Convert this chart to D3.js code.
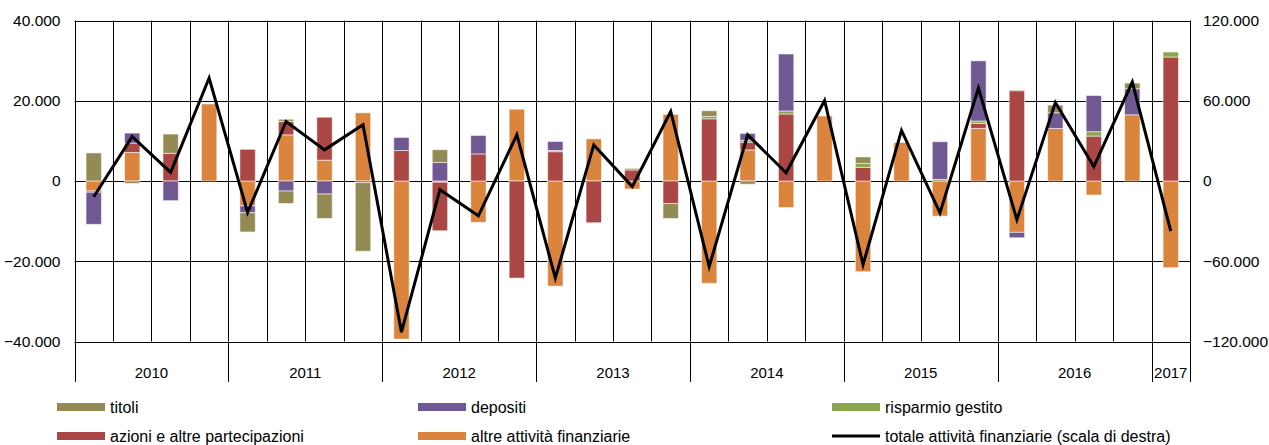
<!DOCTYPE html>
<html>
<head>
<meta charset="utf-8">
<script src="https://cdn.jsdelivr.net/npm/d3@7"></script>
<style>
  html, body { margin: 0; padding: 0; background: #fff; }
  svg { display: block; font-family: "Liberation Sans", Arial, sans-serif; }
</style>
</head>
<body>
<svg id="chart" width="1269" height="445"></svg>
<script>
// ---- data (values in units; 29 quarters 2010Q1..2017Q1) ----
const years = ["2010","2011","2012","2013","2014","2015","2016","2017"];
const quartersPerYear = [4,4,4,4,4,4,4,1];
const titoli = [7000,-600,4800,0, -4800,-3100,-6100,-17100, 0,3200,0,0, 0,0,0,-3750, 1400,-800,0,0, 1600,0,0,0, 200,1900,0,1400, 0];
const depositi = [-8000,2500,-4900,0, -1700,-2500,-3250,0, 3250,4600,4600,0, 2250,0,0,0, 0,1700,14200,0, 0,0,9400,15000, -1350,3900,9000,6500, 0];
const risparmio = [0,0,0,0, 0,600,0,0, 0,0,0,0, 300,0,400,0, 600,500,750,0, 1000,0,400,600, 0,0,1100,0, 1250];
const azioni = [-300,2350,6900,0, 7900,3300,10700,-400, 7600,-12100,6750,-24200, 7300,-10400,2750,-5600, 15500,1900,16700,0, 3400,0,0,1250, 22500,0,11200,0, 30900];
const altre = [-2500,7100,0,19200, -6200,11500,5200,17000, -39400,-300,-10300,17900, -26200,10500,-2000,16600, -25500,7750,-6600,16200, -22600,9600,-8750,13100, -12800,13100,-3500,16500, -21600];
const totale = [-11800,33200,6500,77000, -23500,44500,23300,42000, -113000,-6500,-26000,34500, -72500,27000,-4200,52000, -64000,34500,6200,60200, -62500,37800,-23800,69500, -29000,58700,10800,74000, -37500];
const leftTicks = [-40000,-20000,0,20000,40000];
const rightTicks = [-120000,-60000,0,60000,120000];
const seriesNames = ["titoli","depositi","risparmio gestito","azioni e altre partecipazioni","altre attività finanziarie","totale attività finanziarie (scala di destra)"];
const colors = {"titoli":"#948A54","depositi":"#725893","risparmio gestito":"#89A54E","azioni e altre partecipazioni":"#AA4643","altre attività finanziarie":"#DB843D"};

// ---- layout ----
const svg = d3.select("#chart");
const L = 74.5, R = 1190, T = 20.5, B = 341.5, AXB = 382;
const n = totale.length;
const idx = d3.range(n);
const x = d3.scaleBand().domain(idx).range([L, R]).paddingInner(0).paddingOuter(0);
const y = d3.scaleLinear().domain([-40000, 40000]).range([B, T]);
const y2 = d3.scaleLinear().domain([-120000, 120000]).range([B, T]);
const fmt = v => v === 0 ? "0" : d3.format(",")(v).replace(/,/g, ".");

// gridlines horizontal
svg.append("g").selectAll("line").data(leftTicks).join("line")
  .attr("x1", L).attr("x2", R)
  .attr("y1", d => Math.round(y(d)) + 0.5).attr("y2", d => Math.round(y(d)) + 0.5)
  .attr("stroke", "#000").attr("stroke-width", 1);

// vertical quarter gridlines
const bounds = d3.range(n + 1).map(i => i < n ? x(i) : R);
svg.append("g").selectAll("line").data(bounds).join("line")
  .attr("x1", d => Math.round(d) + 0.5).attr("x2", d => Math.round(d) + 0.5)
  .attr("y1", T).attr("y2", B)
  .attr("stroke", "#000").attr("stroke-width", 1);

// year separators in category axis
let cum = 0;
const yearStarts = [];
years.forEach((yr, i) => { yearStarts.push({yr, start: cum, end: cum + quartersPerYear[i]}); cum += quartersPerYear[i]; });
const yearBounds = [0].concat(yearStarts.map(d => d.end));
svg.append("g").selectAll("line").data(yearBounds).join("line")
  .attr("x1", d => Math.round(d < n ? x(d) : R) + 0.5).attr("x2", d => Math.round(d < n ? x(d) : R) + 0.5)
  .attr("y1", B).attr("y2", AXB)
  .attr("stroke", "#000").attr("stroke-width", 1);
svg.append("g").selectAll("text").data(yearStarts).join("text")
  .attr("x", d => ((d.start < n ? x(d.start) : R) + (d.end < n ? x(d.end) : R)) / 2)
  .attr("y", 378).attr("text-anchor", "middle")
  .attr("font-size", 15).attr("fill", "#000").text(d => d.yr);

// stacked bars
const stackOrder = ["altre attività finanziarie","azioni e altre partecipazioni","risparmio gestito","depositi","titoli"];
const valuesBy = {"titoli":titoli,"depositi":depositi,"risparmio gestito":risparmio,"azioni e altre partecipazioni":azioni,"altre attività finanziarie":altre};
const rects = [];
idx.forEach(i => {
  let pos = 0, neg = 0;
  stackOrder.forEach(s => {
    const v = valuesBy[s][i];
    if (v === 0) return;
    if (v > 0) { rects.push({i, s, y0: pos, y1: pos + v}); pos += v; }
    else { rects.push({i, s, y0: neg + v, y1: neg}); neg += v; }
  });
});
const bw = x.bandwidth() * 0.4;
svg.append("g").selectAll("rect").data(rects).join("rect")
  .attr("x", d => x(d.i) + (x.bandwidth() - bw) / 2)
  .attr("width", bw)
  .attr("y", d => y(d.y1))
  .attr("height", d => Math.max(0.5, y(d.y0) - y(d.y1)))
  .attr("fill", d => colors[d.s])
  .attr("stroke", "rgba(255,255,255,0.55)").attr("stroke-width", 1);

// total line (right axis)
const line = d3.line().x((d, i) => x(i) + x.bandwidth() / 2).y(d => y2(d));
svg.append("path").datum(totale).attr("d", line)
  .attr("fill", "none").attr("stroke", "#000").attr("stroke-width", 3).attr("stroke-linejoin", "miter");

// left axis labels
const axL = d3.axisLeft(y).tickValues(leftTicks).tickSize(0).tickPadding(14).tickFormat(fmt);
const gL = svg.append("g").attr("transform", `translate(${L},0)`).call(axL);
gL.select(".domain").remove();
gL.selectAll("text").attr("font-size", 15.5).attr("fill", "#000").attr("font-family", "Liberation Sans, Arial, sans-serif");
const axR = d3.axisRight(y2).tickValues(rightTicks).tickSize(0).tickPadding(13).tickFormat(fmt);
const gR = svg.append("g").attr("transform", `translate(${R},0)`).call(axR);
gR.select(".domain").remove();
gR.selectAll("text").attr("font-size", 15.5).attr("fill", "#000").attr("font-family", "Liberation Sans, Arial, sans-serif");

// legend
const legCols = [57, 418, 832];
const legRows = [407, 436];
const leg = svg.append("g").attr("font-size", 16);
seriesNames.forEach((name, k) => {
  const cx = legCols[k % 3], cy = legRows[Math.floor(k / 3)];
  const g = leg.append("g");
  if (k < 5) {
    g.append("rect").attr("x", cx).attr("y", cy - 4).attr("width", 48).attr("height", 8).attr("fill", colors[name]);
  } else {
    g.append("line").attr("x1", cx).attr("x2", cx + 48).attr("y1", cy).attr("y2", cy).attr("stroke", "#000").attr("stroke-width", 3);
  }
  g.append("text").attr("x", cx + 53).attr("y", cy).attr("dy", "0.35em").attr("fill", "#000").text(name);
});
</script>
</body>
</html>
